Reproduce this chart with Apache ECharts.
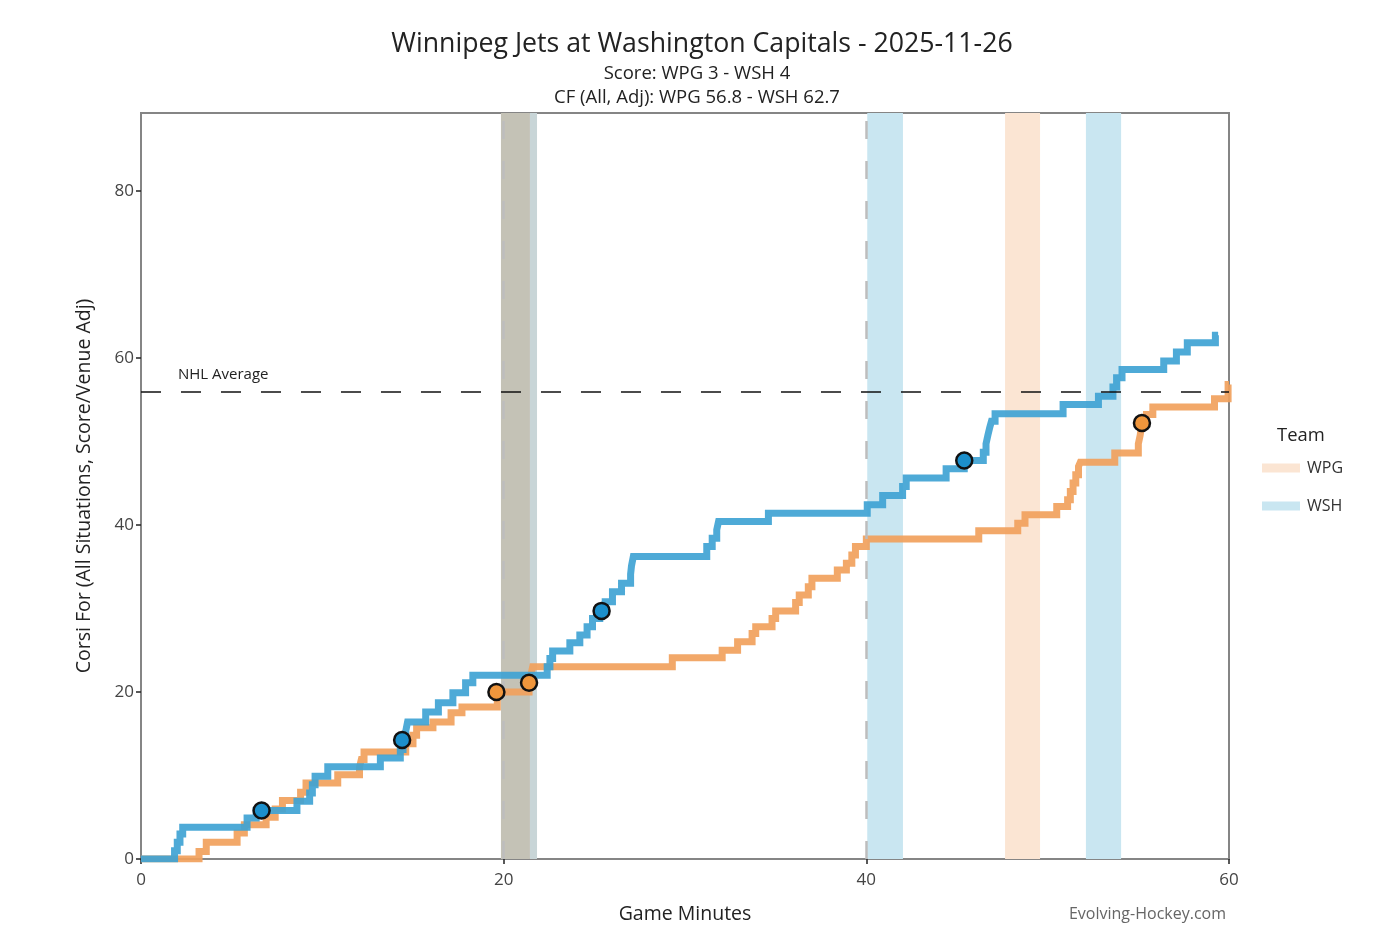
<!DOCTYPE html>
<html>
<head>
<meta charset="utf-8">
<script src="https://cdn.jsdelivr.net/npm/echarts@6/dist/echarts.min.js"></script>
<style>
html,body{margin:0;padding:0;background:#fff;}
#chart{width:1376px;height:950px;}
</style>
</head>
<body>
<div id="chart"></div>
<script>
// ---- data ----
const wshTimes = [0,1.85,2.0,2.15,2.3,5.85,6.35,8.6,9.3,9.45,9.6,10.3,13.2,14.3,14.45,14.6,14.7,15.7,16.4,17.2,17.9,18.3,22.4,22.55,22.7,23.65,24.2,24.6,24.9,25.3,25.6,26.0,26.5,27.0,27.05,27.15,31.2,31.5,31.75,31.85,34.6,40.05,40.9,42.0,42.2,44.4,45.4,46.45,46.6,46.7,46.8,46.9,47.1,50.85,52.8,53.6,53.8,54.1,56.4,57.1,57.7,59.25,59.4];
const wshCorsi = [0,1.0,2.0,3.0,3.8,4.9,5.8,6.9,7.9,8.9,9.9,11.05,12.1,13.1,14.25,15.3,16.4,17.6,18.7,19.9,21.1,22.0,23.0,24.0,24.9,25.9,26.8,27.8,28.8,29.7,30.8,32.0,33.0,34.1,35.1,36.2,37.4,38.4,39.4,40.4,41.4,42.4,43.5,44.6,45.6,46.7,47.7,48.7,49.7,50.7,51.6,52.4,53.3,54.4,55.4,56.5,57.6,58.6,59.6,60.7,61.8,62.7,62.7];
const wpgTimes = [0,3.2,3.6,5.3,5.7,6.9,7.4,7.8,8.8,9.1,10.85,12.05,12.15,12.3,14.6,15.0,15.2,16.1,17.1,17.7,19.65,21.4,21.5,21.6,29.3,32.05,32.9,33.7,33.9,34.8,35.0,36.1,36.3,36.8,37.0,38.4,38.9,39.2,39.4,40.0,46.2,48.35,48.75,50.5,51.1,51.25,51.4,51.55,51.7,51.8,53.7,55.0,55.1,55.2,55.45,55.8,59.2,59.95,60];
const wpgCorsi = [0,0.9,2.0,3.1,4.1,5.0,6.0,7.0,8.0,9.1,10.1,11.0,11.9,12.8,13.8,14.8,15.7,16.4,17.5,18.2,20.0,21.1,22.0,23.0,24.1,25.0,26.0,27.0,27.8,28.8,29.7,30.7,31.6,32.6,33.6,34.6,35.4,36.4,37.4,38.3,39.3,40.2,41.2,42.2,43.0,44.0,45.0,46.0,47.0,47.5,48.6,49.7,50.7,52.2,53.2,54.1,55.1,56.8,56.8];
const wshGoalTimes = [6.65,14.4,25.4,45.4];
const wshGoalCorsi = [5.8,14.25,29.7,47.7];
const wpgGoalTimes = [19.6,21.4,55.2];
const wpgGoalCorsi = [20.0,21.1,52.2];
// power-play windows [start, end] in game minutes
const wshPP = [[40.05,42.02],[52.11,54.05]];
const wpgPP = [[47.65,49.58]];
const bothPP = [[19.85,21.45]];
const lateWshPP = [[21.45,21.84]];
const periodEnds = [20,40];
const nhlAverage = 55.9;
const xTicks = [0,20,40,60];
const yTicks = [0,20,40,60,80];
const yMax = 89.3;

// ---- build ----
const zip = (a,b) => a.map((v,i)=>[v,b[i]]);
const FONT = 'Open Sans';
const C_WSH = '#3fa3d4', C_WPG = '#f1a15c';
const PP_WSH = '#c9e6f1', PP_WPG = '#fbe5d3';

const areas = [];
wshPP.forEach(p=>areas.push([{xAxis:p[0],itemStyle:{color:PP_WSH}},{xAxis:p[1]}]));
wpgPP.forEach(p=>areas.push([{xAxis:p[0],itemStyle:{color:PP_WPG}},{xAxis:p[1]}]));
bothPP.forEach(p=>areas.push([{xAxis:p[0],itemStyle:{color:'#c4c2b6'}},{xAxis:p[1]}]));
lateWshPP.forEach(p=>areas.push([{xAxis:p[0],itemStyle:{color:'#c8d5d7'}},{xAxis:p[1]}]));

const chart = echarts.init(document.getElementById('chart'));
chart.setOption({
  animation:false,
  backgroundColor:'#fff',
  textStyle:{fontFamily:FONT},
  title:[
    {text:'Winnipeg Jets at Washington Capitals - 2025-11-26',left:697,top:26,textAlign:'center',
     textStyle:{fontFamily:FONT,fontSize:26.7,fontWeight:'normal',color:'#222'}},
    {text:'Score: WPG 3 - WSH 4',left:692,top:59,textAlign:'center',
     textStyle:{fontFamily:FONT,fontSize:18.5,fontWeight:'normal',color:'#222'}},
    {text:'CF (All, Adj): WPG 56.8 - WSH 62.7',left:692,top:83,textAlign:'center',
     textStyle:{fontFamily:FONT,fontSize:18.5,fontWeight:'normal',color:'#222'}},
    {text:'Team',left:1272,top:422,
     textStyle:{fontFamily:FONT,fontSize:18.4,fontWeight:'normal',color:'#222'}},
    {text:'Evolving-Hockey.com',right:145,top:901,
     textStyle:{fontFamily:FONT,fontSize:16,fontWeight:'normal',color:'#666'}}
  ],
  legend:{
    orient:'vertical',left:1257,top:455,itemWidth:38,itemHeight:9,itemGap:22,
    textStyle:{fontFamily:FONT,fontSize:16,color:'#333',padding:[0,0,0,2]},
    data:[
      {name:'WPG',icon:'rect',itemStyle:{color:PP_WPG,borderWidth:0},lineStyle:{opacity:0}},
      {name:'WSH',icon:'rect',itemStyle:{color:PP_WSH,borderWidth:0},lineStyle:{opacity:0}}
    ],
    selectedMode:false
  },
  grid:{left:141,right:147,top:113,bottom:91,show:true,borderColor:'#858585',borderWidth:2,containLabel:false},
  xAxis:{
    type:'value',min:0,max:60,interval:20,
    name:'Game Minutes',nameLocation:'middle',nameGap:45,
    nameTextStyle:{fontFamily:FONT,fontSize:19.5,color:'#222'},
    axisLine:{show:true,onZero:false,lineStyle:{color:'#858585',width:2}},
    axisTick:{show:true,length:5,lineStyle:{color:'#222',width:1.5},customValues:xTicks},
    axisLabel:{fontFamily:FONT,fontSize:17,color:'#444',margin:13,customValues:xTicks},
    splitLine:{show:false}
  },
  yAxis:{
    type:'value',min:0,max:yMax,interval:20,
    name:'Corsi For (All Situations, Score/Venue Adj)',nameLocation:'middle',nameGap:47,
    nameTextStyle:{fontFamily:FONT,fontSize:19.5,color:'#222'},
    axisLine:{show:true,onZero:false,lineStyle:{color:'#858585',width:2}},
    axisTick:{show:true,length:5,lineStyle:{color:'#222',width:1.5},customValues:yTicks},
    axisLabel:{fontFamily:FONT,fontSize:17,color:'#444',margin:7,customValues:yTicks},
    splitLine:{show:false}
  },
  series:[
    {
      name:'pp',type:'line',data:[],silent:true,z:1,
      markArea:{silent:true,data:areas},
      markLine:{
        silent:true,symbol:'none',
        data:[
          ...periodEnds.map(v=>({xAxis:v,lineStyle:{color:'#bdbdbd',width:2.5,type:[18,22]},label:{show:false}})),
          {yAxis:nhlAverage,lineStyle:{color:'#111',width:1.5,type:[20,20]},
           label:{show:true,formatter:'NHL Average',position:'insideStartTop',distance:[37,10],
                  fontFamily:FONT,fontSize:15,color:'#222'}}
        ]
      }
    },
    {
      name:'WPG',type:'line',step:'end',data:zip(wpgTimes,wpgCorsi),showSymbol:false,z:3,
      lineStyle:{color:C_WPG,width:7,opacity:0.92,cap:'butt',join:'miter'},itemStyle:{color:C_WPG}
    },
    {
      name:'WSH',type:'line',step:'end',data:zip(wshTimes,wshCorsi),showSymbol:false,z:4,
      lineStyle:{color:C_WSH,width:7,opacity:0.92,cap:'butt',join:'miter'},itemStyle:{color:C_WSH}
    },
    {
      name:'WPG goals',type:'scatter',data:zip(wpgGoalTimes,wpgGoalCorsi),symbolSize:16,z:6,
      itemStyle:{color:'#f0963c',borderColor:'#111',borderWidth:2.5,opacity:1}
    },
    {
      name:'WSH goals',type:'scatter',data:zip(wshGoalTimes,wshGoalCorsi),symbolSize:16,z:6,
      itemStyle:{color:'#1c8fcb',borderColor:'#111',borderWidth:2.5,opacity:1}
    }
  ]
});
</script>
</body>
</html>
